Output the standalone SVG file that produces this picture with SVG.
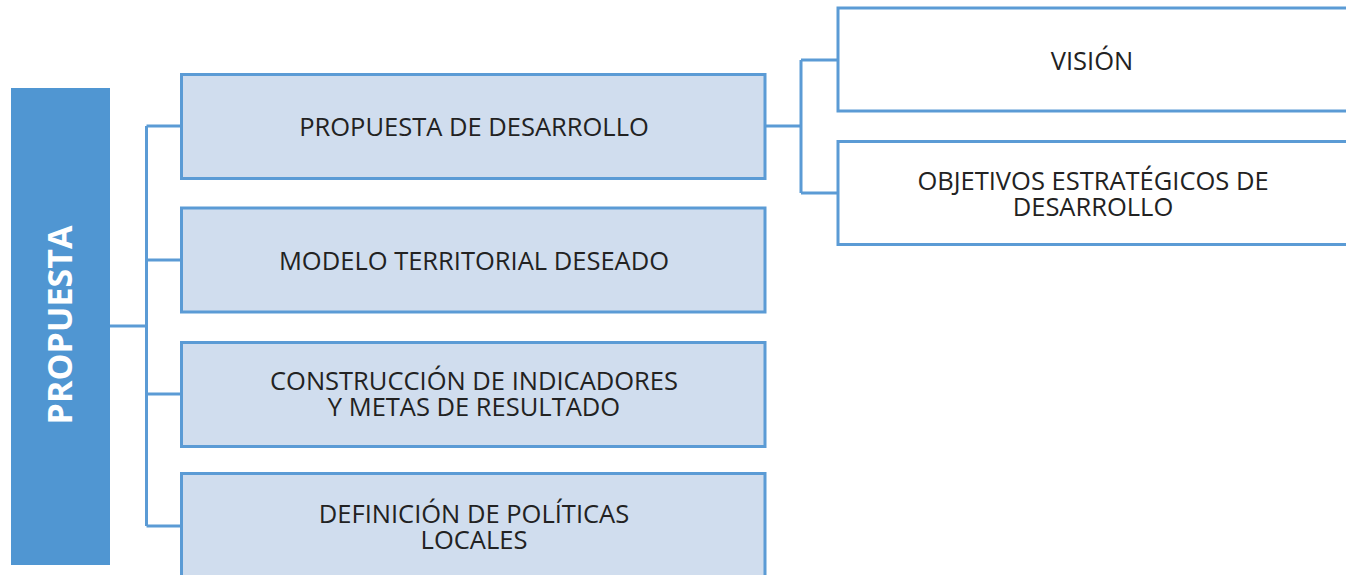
<svg xmlns="http://www.w3.org/2000/svg" width="1346" height="575" viewBox="0 0 1346 575">
<style>
.box{fill:#D0DDEE;stroke:#5B9BD5;stroke-width:3}
.wbox{fill:#FFFFFF;stroke:#5B9BD5;stroke-width:3}
.lbl{font-family:"Open Sans","Liberation Sans",sans-serif;font-size:25.5px;fill:#222222;text-anchor:middle}
.conn{fill:none;stroke:#5B9BD5;stroke-width:3}
</style>
<rect width="1346" height="575" fill="#FFFFFF"/>
<g id="connectors">
<path class="conn" d="M110,326 H146.5 M146.5,126 V526 M146.5,126 H181.5 M146.5,260 H181.5 M146.5,394 H181.5 M146.5,526 H181.5"/>
<path class="conn" d="M765,126 H801 M801,60 V193 M801,60 H838 M801,193 H838"/>
</g>
<g id="propuesta">
<rect x="11" y="88" width="99" height="477" fill="#5096D2"/>
<text transform="translate(72,325) rotate(-90)" font-family="'Open Sans','Liberation Sans',sans-serif" font-size="34" font-weight="bold" fill="#FFFFFF" text-anchor="middle">PROPUESTA</text>
</g>
<g id="n1">
<rect class="box" x="181.5" y="74.5" width="583.5" height="104"/>
<text class="lbl" x="474" y="136">PROPUESTA DE DESARROLLO</text>
</g>
<g id="n2">
<rect class="box" x="181.5" y="208" width="583.5" height="104"/>
<text class="lbl" x="474" y="270">MODELO TERRITORIAL DESEADO</text>
</g>
<g id="n3">
<rect class="box" x="181.5" y="342.5" width="583.5" height="104"/>
<text class="lbl" x="474" y="390">CONSTRUCCIÓN DE INDICADORES</text>
<text class="lbl" x="474" y="416">Y METAS DE RESULTADO</text>
</g>
<g id="n4">
<rect class="box" x="181.5" y="473.5" width="583.5" height="110"/>
<text class="lbl" x="474" y="523">DEFINICIÓN DE POLÍTICAS</text>
<text class="lbl" x="474" y="549">LOCALES</text>
</g>
<g id="n5">
<rect class="wbox" x="838" y="8" width="520" height="103"/>
<text class="lbl" x="1092" y="70">VISIÓN</text>
</g>
<g id="n6">
<rect class="wbox" x="838" y="141.5" width="520" height="103"/>
<text class="lbl" x="1093" y="190">OBJETIVOS ESTRATÉGICOS DE</text>
<text class="lbl" x="1093" y="216">DESARROLLO</text>
</g>
</svg>
